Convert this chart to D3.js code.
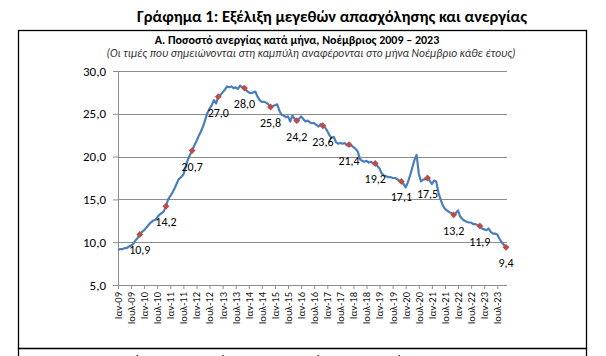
<!DOCTYPE html>
<html><head><meta charset="utf-8">
<script src="https://cdn.jsdelivr.net/npm/d3@7/dist/d3.min.js"></script>
<style>body{margin:0;background:#fff;overflow:hidden} svg{display:block}</style>
</head><body>
<script>
// ---- data (monthly unemployment rate, %, Jan 2009 – Nov 2023) ----
const rates2009 = [9.1, 9.2, 9.2, 9.3, 9.3, 9.5, 9.6, 9.8, 10.2, 10.5, 10.9, 11.2];
const rates2010 = [11.4, 11.7, 12.0, 12.3, 12.5, 12.6, 12.9, 13.2, 13.4, 13.6, 14.2, 15.0];
const rates2011 = [15.4, 15.8, 16.3, 16.9, 17.4, 17.6, 17.9, 18.8, 19.6, 20.2, 20.7, 21.3];
const rates2012 = [21.8, 22.4, 22.9, 23.5, 24.3, 25.1, 25.6, 26.0, 26.6, 26.2, 27.0, 27.2];
const rates2013 = [27.5, 27.8, 28.2, 28.1, 28.2, 28.0, 28.1, 27.9, 28.3, 28.1, 28.0, 27.7];
const rates2014 = [27.5, 27.4, 27.5, 27.6, 27.0, 26.6, 26.4, 26.4, 26.3, 26.1, 25.8, 25.9];
const rates2015 = [26.0, 26.1, 25.4, 24.9, 24.8, 24.6, 24.7, 24.1, 24.8, 24.4, 24.2, 24.4];
const rates2016 = [24.7, 24.4, 24.1, 24.2, 24.0, 23.9, 23.9, 23.7, 23.5, 23.8, 23.6, 23.4];
const rates2017 = [23.0, 22.5, 22.2, 22.3, 21.7, 21.5, 21.6, 21.5, 21.6, 21.3, 21.4, 21.3];
const rates2018 = [21.1, 20.9, 20.6, 19.7, 19.5, 19.4, 19.5, 19.3, 19.4, 19.2, 19.2, 18.9];
const rates2019 = [18.6, 18.0, 17.8, 17.7, 17.6, 17.6, 17.5, 17.5, 17.4, 17.2, 17.1, 16.8];
const rates2020 = [16.4, 17.0, 17.8, 18.7, 19.6, 20.2, 18.0, 17.1, 17.3, 17.4, 17.5, 17.2];
const rates2021 = [16.8, 17.2, 17.1, 15.8, 15.0, 14.3, 13.9, 13.7, 13.5, 13.4, 13.2, 13.4];
const rates2022 = [13.7, 13.0, 12.7, 12.5, 12.4, 12.3, 12.3, 12.1, 12.1, 12.0, 11.9, 11.6];
const rates2023 = [11.5, 11.4, 11.6, 11.2, 11.0, 11.0, 10.9, 10.4, 10.0, 9.7, 9.4];

const yTicks = [5, 10, 15, 20, 25, 30];
const xTickLabels = ["Ιαν-09","Ιουλ-09","Ιαν-10","Ιουλ-10","Ιαν-11","Ιουλ-11","Ιαν-12","Ιουλ-12",
  "Ιαν-13","Ιουλ-13","Ιαν-14","Ιουλ-14","Ιαν-15","Ιουλ-15","Ιαν-16","Ιουλ-16","Ιαν-17","Ιουλ-17",
  "Ιαν-18","Ιουλ-18","Ιαν-19","Ιουλ-19","Ιαν-20","Ιουλ-20","Ιαν-21","Ιουλ-21","Ιαν-22","Ιουλ-22",
  "Ιαν-23","Ιουλ-23"];

const mainTitle = "Γράφημα 1: Εξέλιξη μεγεθών απασχόλησης και ανεργίας";
const panelTitle = "Α. Ποσοστό ανεργίας κατά μήνα, Νοέμβριος 2009 – 2023";
const panelNote = "(Οι τιμές που σημειώνονται στη καμπύλη αναφέρονται στο μήνα Νοέμβριο κάθε έτους)";
const nextPanelTitle = "Β. Εξέλιξη του αριθμού των απασχολουμένων και των ανέργων, 2009 – 2023";

// ---- build ----
const series = [rates2009,rates2010,rates2011,rates2012,rates2013,rates2014,rates2015,rates2016,
  rates2017,rates2018,rates2019,rates2020,rates2021,rates2022,rates2023].flat()
  .map((v, i) => ({ m: i, v }));
const novembers = series.filter(d => d.m % 12 === 10);

const W = 606, H = 356;
const FONT = "Calibri, Carlito, 'Liberation Sans', Arial, sans-serif";
const svg = d3.select("body").append("svg").attr("width", W).attr("height", H)
  .style("font-family", FONT);

const x = d3.scaleLinear().domain([0, series.length - 1]).range([118, 506]);
const y = d3.scaleLinear().domain([5, 30]).range([285, 71]);
const fmt = v => d3.format(".1f")(v).replace(".", ",");

// titles
svg.append("text").attr("x", 332).attr("y", 22).attr("text-anchor", "middle")
  .attr("font-size", 16.5).attr("font-weight", "bold").attr("fill", "#000").text(mainTitle);

// panel boxes
svg.append("rect").attr("x", 18.5).attr("y", 30.5).attr("width", 568).attr("height", 318)
  .attr("fill", "none").attr("stroke", "#000").attr("stroke-width", 1.3);
svg.append("rect").attr("x", 18.5).attr("y", 348.5).attr("width", 568).attr("height", 40)
  .attr("fill", "none").attr("stroke", "#000").attr("stroke-width", 1.3);
svg.append("text").attr("x", 302).attr("y", 364).attr("text-anchor", "middle")
  .attr("font-size", 12).attr("font-weight", "bold").text(nextPanelTitle);

svg.append("text").attr("x", 297).attr("y", 44).attr("text-anchor", "middle")
  .attr("font-size", 12).attr("font-weight", "bold").attr("fill", "#000").text(panelTitle);
svg.append("text").attr("x", 311).attr("y", 57).attr("text-anchor", "middle")
  .attr("font-size", 11.5).attr("font-style", "italic").attr("fill", "#333").text(panelNote);

// gridlines
svg.append("g").selectAll("line").data(yTicks.filter(t => t > 5)).join("line")
  .attr("x1", x(0)).attr("x2", 507).attr("y1", d => Math.round(y(d)) + 0.5).attr("y2", d => Math.round(y(d)) + 0.5)
  .attr("stroke", "#8c8c8c").attr("stroke-width", 1);

// y axis
const yAxis = svg.append("g").attr("transform", `translate(${x(0)},0)`)
  .call(d3.axisLeft(y).tickValues(yTicks).tickSize(5).tickPadding(7).tickFormat(fmt));
yAxis.select(".domain").attr("stroke", "#8c8c8c");
yAxis.selectAll(".tick line").attr("stroke", "#8c8c8c");
yAxis.selectAll("text").attr("font-size", 13).attr("fill", "#000").style("font-family", FONT);

// x axis
const xAxis = svg.append("g").attr("transform", `translate(0,${y(5)})`)
  .call(d3.axisBottom(x).tickValues(d3.range(0, series.length, 6)).tickSize(4)
    .tickFormat((d, i) => xTickLabels[i]));
xAxis.select(".domain").attr("d", `M${x(0)},0.5H507`).attr("stroke", "#8c8c8c");
xAxis.selectAll(".tick line").attr("stroke", "#8c8c8c");
xAxis.selectAll("text").attr("font-size", 10.5).attr("fill", "#111").style("font-family", FONT)
  .attr("text-anchor", "end").attr("transform", "rotate(-90)")
  .attr("x", -7).attr("y", 0).attr("dy", "0.32em");

// line
svg.append("path").datum(series)
  .attr("d", d3.line().x(d => x(d.m)).y(d => y(d.v)))
  .attr("fill", "none").attr("stroke", "#4a7ebb").attr("stroke-width", 2.2)
  .attr("stroke-linejoin", "round");

// november markers
svg.append("g").selectAll("path").data(novembers).join("path")
  .attr("transform", d => `translate(${x(d.m)},${y(d.v)})`)
  .attr("d", d3.symbol(d3.symbolDiamond2, 30))
  .attr("fill", "#be4b48");

// labels
svg.append("g").selectAll("text").data(novembers).join("text")
  .attr("x", d => x(d.m)).attr("y", d => y(d.v) + 20)
  .attr("text-anchor", "middle").attr("font-size", 12).attr("fill", "#000")
  .text(d => fmt(d.v));
</script>
</body></html>
